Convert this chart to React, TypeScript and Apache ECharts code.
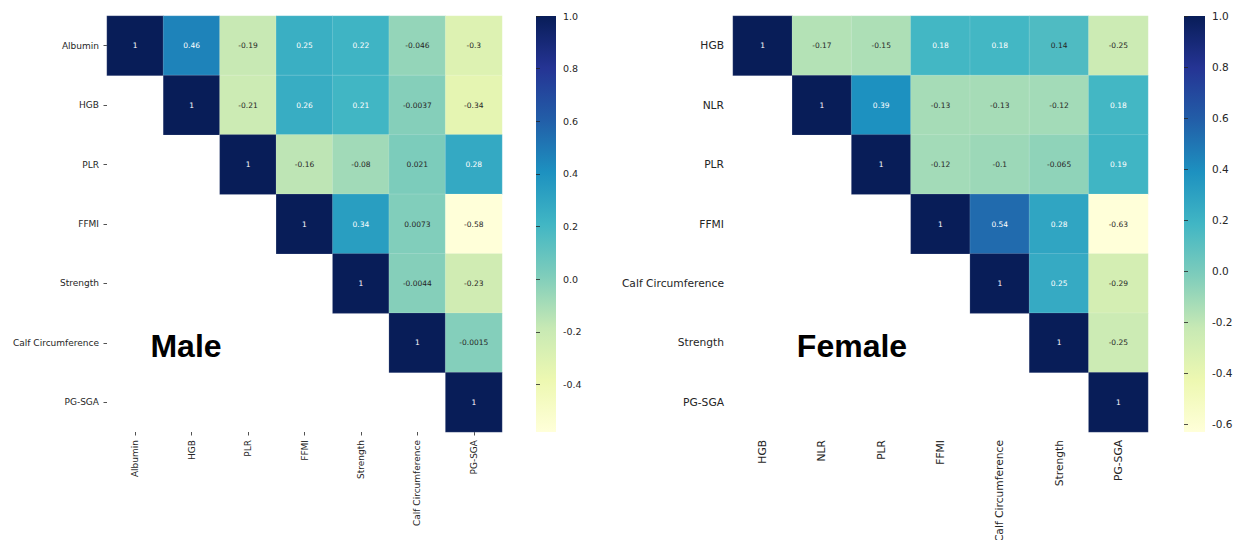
import React, { useEffect, useRef } from "react";
import * as echarts from "echarts";

const maleLabels = ["Albumin", "HGB", "PLR", "FFMI", "Strength", "Calf Circumference", "PG-SGA"];
// upper-triangle rows (starting on the diagonal)
const maleRows: number[][] = [
  [1, 0.46, -0.19, 0.25, 0.22, -0.046, -0.3],
  [1, -0.21, 0.26, 0.21, -0.0037, -0.34],
  [1, -0.16, -0.08, 0.021, 0.28],
  [1, 0.34, 0.0073, -0.58],
  [1, -0.0044, -0.23],
  [1, -0.0015],
  [1],
];
const maleMin = -0.58;
const maleTicks = [-0.4, -0.2, 0.0, 0.2, 0.4, 0.6, 0.8, 1.0];

const femaleLabels = ["HGB", "NLR", "PLR", "FFMI", "Calf Circumference", "Strength", "PG-SGA"];
const femaleRows: number[][] = [
  [1, -0.17, -0.15, 0.18, 0.18, 0.14, -0.25],
  [1, 0.39, -0.13, -0.13, -0.12, 0.18],
  [1, -0.12, -0.1, -0.065, 0.19],
  [1, 0.54, 0.28, -0.63],
  [1, 0.25, -0.29],
  [1, -0.25],
  [1],
];
const femaleMin = -0.63;
const femaleTicks = [-0.6, -0.4, -0.2, 0.0, 0.2, 0.4, 0.6, 0.8, 1.0];

const YlGnBu = ["#ffffd9", "#edf8b1", "#c7e9b4", "#7fcdbb", "#41b6c4", "#1d91c0", "#225ea8", "#253494", "#081d58"];

function hexToRgb(h: string) {
  return [parseInt(h.slice(1, 3), 16), parseInt(h.slice(3, 5), 16), parseInt(h.slice(5, 7), 16)];
}
function cmap(t: number) {
  const p = Math.max(0, Math.min(1, t)) * (YlGnBu.length - 1);
  const i = Math.min(YlGnBu.length - 2, Math.floor(p));
  const f = p - i;
  const a = hexToRgb(YlGnBu[i]);
  const b = hexToRgb(YlGnBu[i + 1]);
  return [0, 1, 2].map((k) => a[k] + (b[k] - a[k]) * f);
}
function lum(rgb: number[]) {
  const lin = rgb.map((c) => {
    const s = c / 255;
    return s <= 0.03928 ? s / 12.92 : Math.pow((s + 0.055) / 1.055, 2.4);
  });
  return 0.2126 * lin[0] + 0.7152 * lin[1] + 0.0722 * lin[2];
}

function buildData(rows: number[][], min: number, max: number) {
  const out: any[] = [];
  rows.forEach((row, i) => {
    row.forEach((v, k) => {
      const j = i + k;
      const t = (v - min) / (max - min);
      const dark = lum(cmap(t)) > 0.408;
      out.push({ value: [j, i, v], label: { color: dark ? "#262626" : "#ffffff" } });
    });
  });
  return out;
}

function gradient() {
  return new echarts.graphic.LinearGradient(
    0, 1, 0, 0,
    YlGnBu.map((c, i) => ({ offset: i / (YlGnBu.length - 1), color: c }))
  );
}

export default function App() {
  const ref = useRef<HTMLDivElement>(null);
  useEffect(() => {
    if (!ref.current) return;
    const chart = echarts.init(ref.current, null, { renderer: "svg" });
    const txt = "#262626";
    const font = "DejaVu Sans";
    const L = { left: 107, top: 16, width: 395, height: 416 };
    const R = { left: 733, top: 16, width: 415, height: 416 };
    const LC = { left: 536, top: 16, width: 20, height: 416 };
    const RC = { left: 1184, top: 16, width: 21, height: 416 };

    const catX = (idx: number, labels: string[], ticks: boolean, fs: number) => ({
      type: "category",
      gridIndex: idx,
      data: labels,
      position: "bottom",
      axisLine: { show: false },
      axisTick: { show: ticks, alignWithLabel: true, length: 3.5, lineStyle: { color: txt, width: 0.8 } },
      axisLabel: { rotate: 90, fontSize: fs, color: txt, fontFamily: font, margin: 8, interval: 0 },
      splitLine: { show: false },
    });
    const catY = (idx: number, labels: string[], ticks: boolean, fs: number) => ({
      type: "category",
      gridIndex: idx,
      data: labels,
      inverse: true,
      axisLine: { show: false },
      axisTick: { show: ticks, alignWithLabel: true, length: 3.5, lineStyle: { color: txt, width: 0.8 } },
      axisLabel: { fontSize: fs, color: txt, fontFamily: font, margin: ticks ? 8 : 9, interval: 0 },
      splitLine: { show: false },
    });
    const cbY = (idx: number, min: number, ticks: number[], fs: number) => ({
      type: "value",
      gridIndex: idx,
      position: "right",
      min,
      max: 1,
      axisLine: { show: false },
      splitLine: { show: false },
      axisTick: { show: true, length: 4, customValues: ticks, lineStyle: { color: txt, width: 0.8 } },
      axisLabel: {
        customValues: ticks,
        fontSize: fs,
        color: txt,
        fontFamily: font,
        margin: 7,
        formatter: (v: number) => v.toFixed(1),
      },
    });
    const hiddenX = (idx: number) => ({ type: "value", gridIndex: idx, show: false, min: 0, max: 1 });

    const cellLabel = { show: true, fontSize: 7.5, fontFamily: font, formatter: (p: any) => String(p.value[2]) };
    const itemStyle = { borderColor: "rgba(255,255,255,0.3)", borderWidth: 0.5 };
    const gridBase = { containLabel: false, outerBoundsMode: "none" };

    chart.setOption({
      animation: false,
      backgroundColor: "#ffffff",
      grid: [
        { ...L, ...gridBase },
        { ...R, ...gridBase },
        { ...LC, ...gridBase },
        { ...RC, ...gridBase },
      ],
      xAxis: [
        catX(0, maleLabels, true, 9),
        catX(1, femaleLabels, false, 10.7),
        hiddenX(2),
        hiddenX(3),
      ],
      yAxis: [
        catY(0, maleLabels, true, 9),
        catY(1, femaleLabels, false, 10.7),
        cbY(2, maleMin, maleTicks, 9.5),
        cbY(3, femaleMin, femaleTicks, 10.5),
      ],
      visualMap: [
        { type: "continuous", show: false, seriesIndex: 0, min: maleMin, max: 1, inRange: { color: YlGnBu } },
        { type: "continuous", show: false, seriesIndex: 1, min: femaleMin, max: 1, inRange: { color: YlGnBu } },
      ],
      series: [
        {
          type: "heatmap",
          xAxisIndex: 0,
          yAxisIndex: 0,
          data: buildData(maleRows, maleMin, 1),
          label: cellLabel,
          itemStyle,
          emphasis: { disabled: true },
        },
        {
          type: "heatmap",
          xAxisIndex: 1,
          yAxisIndex: 1,
          data: buildData(femaleRows, femaleMin, 1),
          label: cellLabel,
          itemStyle,
          emphasis: { disabled: true },
        },
      ],
      graphic: [
        { type: "rect", shape: { x: LC.left, y: LC.top, width: LC.width, height: LC.height }, style: { fill: gradient() }, silent: true },
        { type: "rect", shape: { x: RC.left, y: RC.top, width: RC.width, height: RC.height }, style: { fill: gradient() }, silent: true },
        {
          type: "text",
          x: 186,
          y: 346,
          style: { text: "Male", font: "bold 32px 'Liberation Sans', Arial, sans-serif", fill: "#000", align: "center", verticalAlign: "middle" },
        },
        {
          type: "text",
          x: 852,
          y: 346,
          style: { text: "Female", font: "bold 32px 'Liberation Sans', Arial, sans-serif", fill: "#000", align: "center", verticalAlign: "middle" },
        },
      ],
    });
    return () => chart.dispose();
  }, []);
  return <div ref={ref} style={{ position: "fixed", left: 0, top: 0, width: 1235, height: 540 }} />;
}
